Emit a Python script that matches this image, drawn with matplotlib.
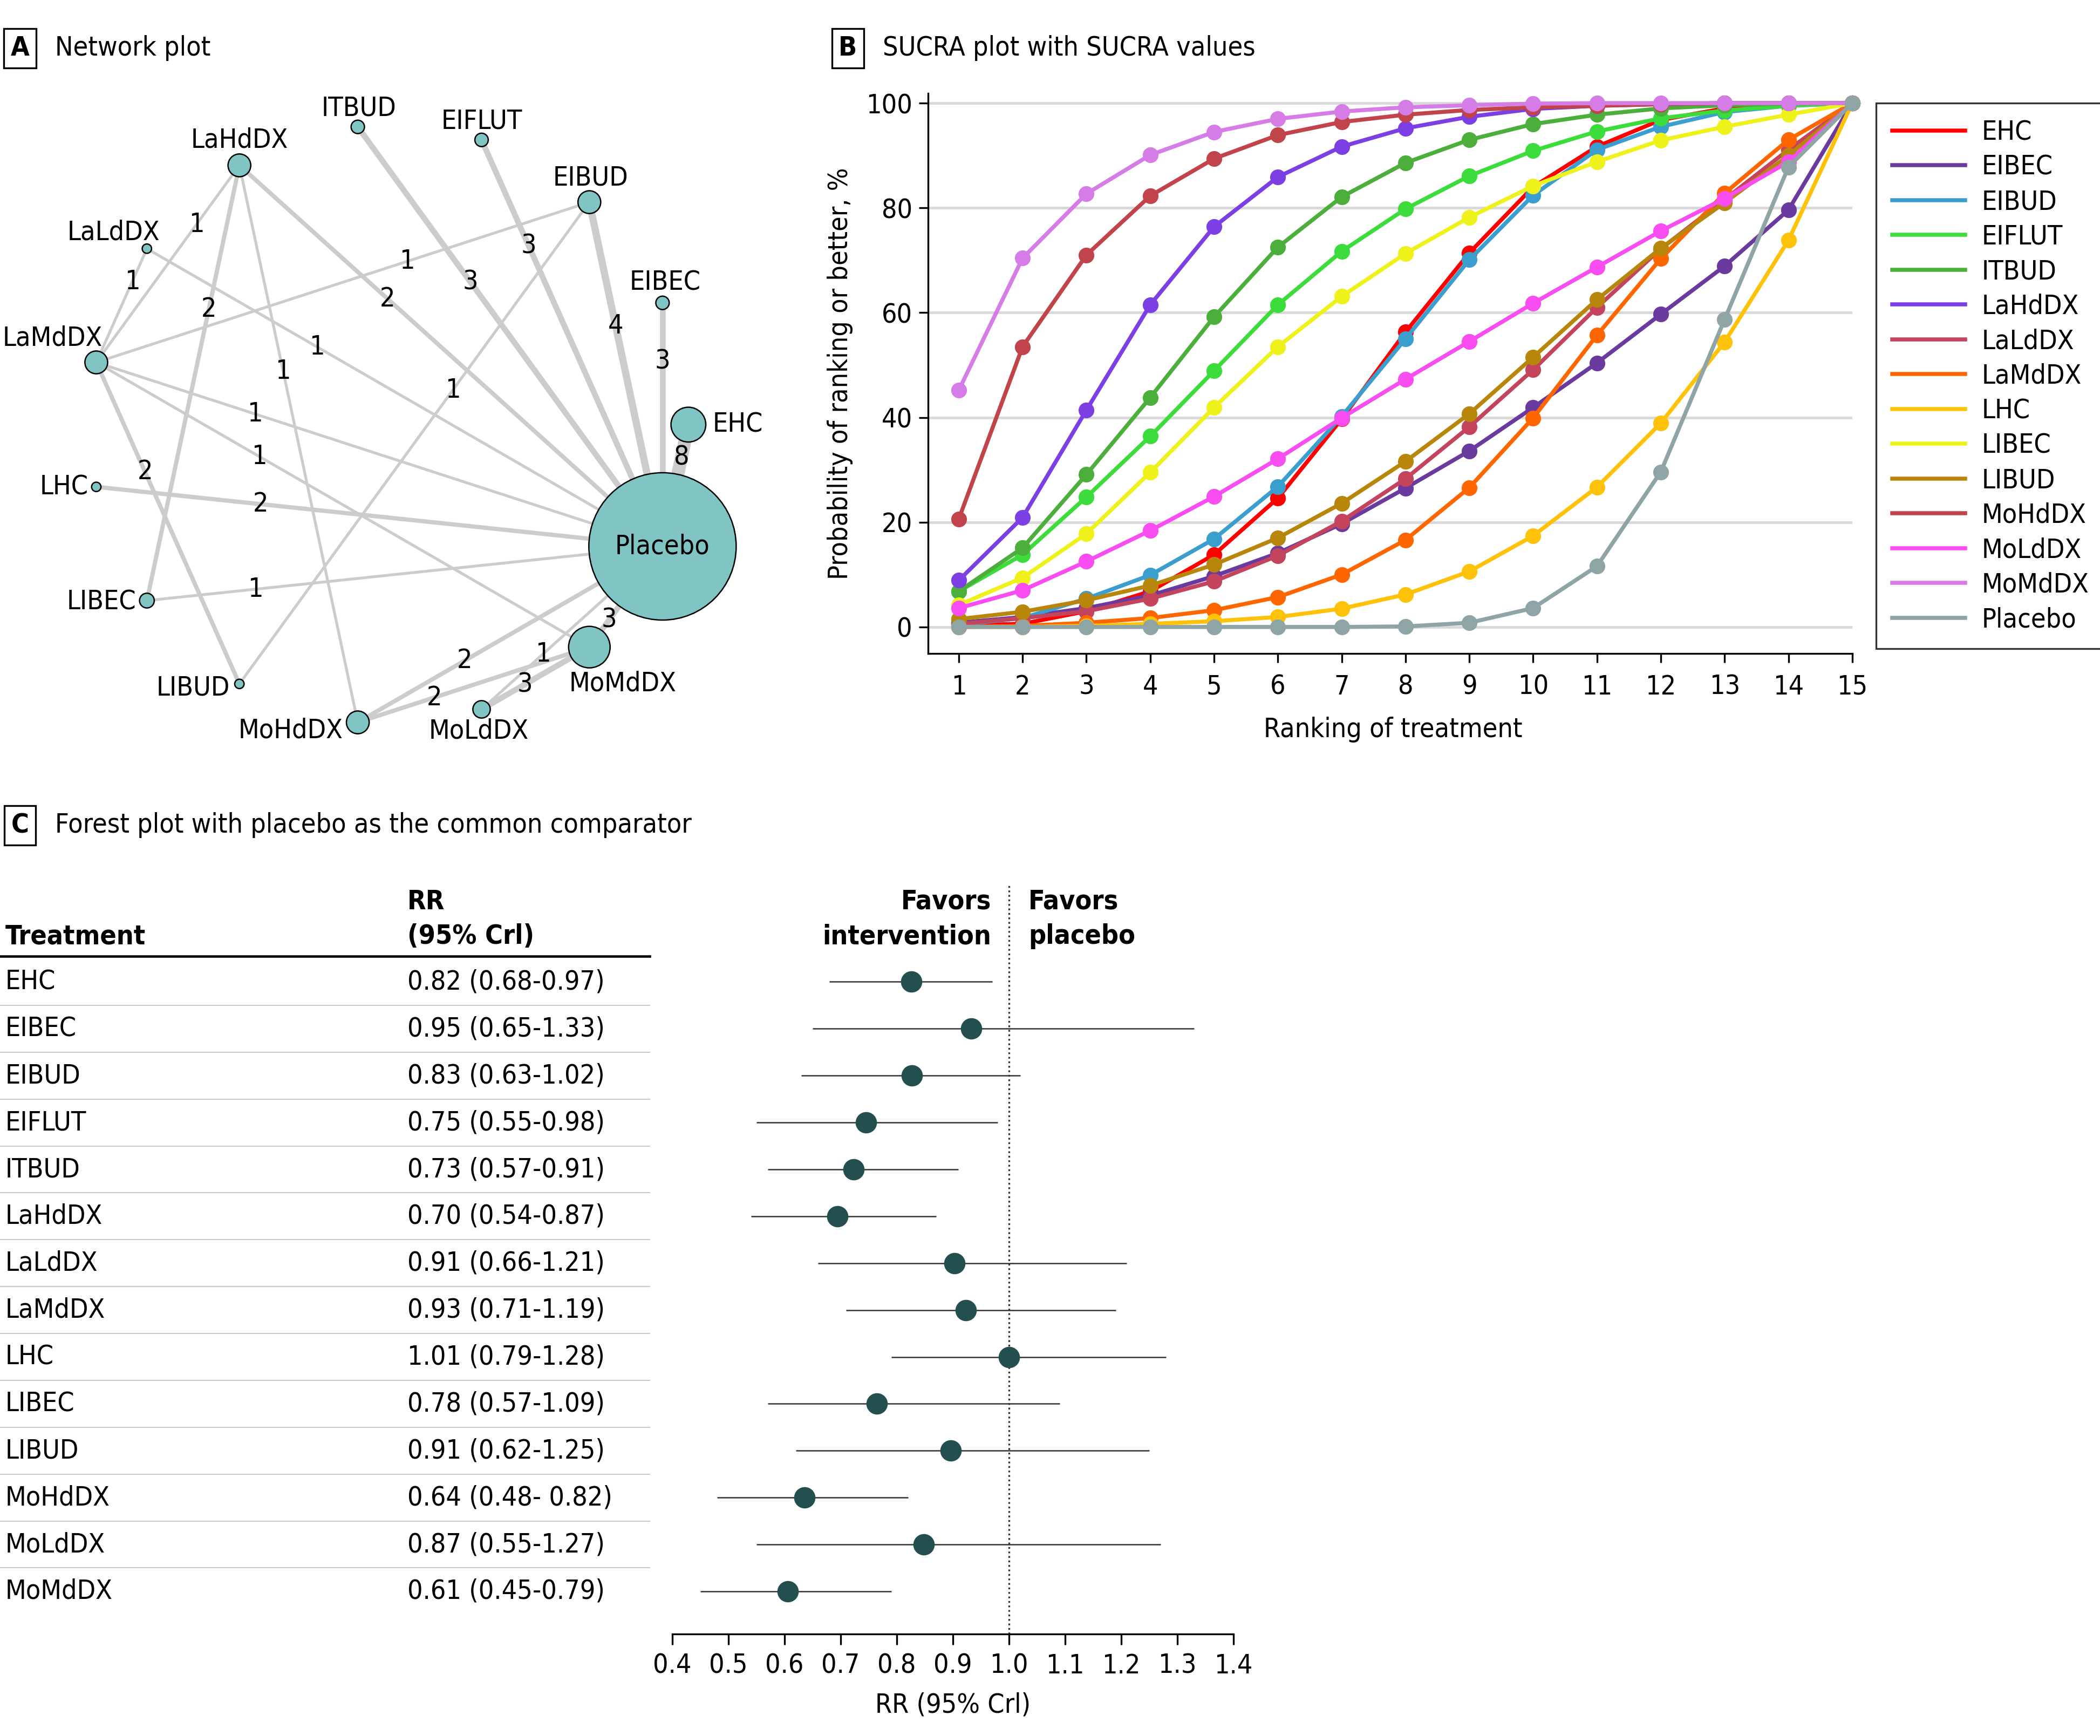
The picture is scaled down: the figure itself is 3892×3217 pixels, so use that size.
import numpy as np
import matplotlib.pyplot as plt
from matplotlib.patches import Circle

plt.rcParams['font.family'] = ['Liberation Sans Narrow', 'DejaVu Sans']
plt.rcParams['font.stretch'] = 'condensed'

# ---------------- data ----------------
treatments = ['EHC', 'EIBEC', 'EIBUD', 'EIFLUT', 'ITBUD', 'LaHdDX', 'LaLdDX', 'LaMdDX',
              'LHC', 'LIBEC', 'LIBUD', 'MoHdDX', 'MoLdDX', 'MoMdDX', 'Placebo']
ranks = list(range(1, 16))

# cumulative ranking probabilities (%)
cum_EHC = [0.3, 0.6, 3.0, 6.8, 13.8, 24.6, 39.7, 56.3, 71.4, 84.0, 91.7, 96.8, 99.0, 99.8, 100]
cum_EIBEC = [0.8, 1.9, 3.6, 6.0, 9.7, 14.1, 19.7, 26.5, 33.6, 41.9, 50.4, 59.7, 68.9, 79.6, 100]
cum_EIBUD = [0.4, 1.7, 5.4, 9.9, 16.8, 26.8, 40.2, 55.0, 70.1, 82.4, 91.1, 95.5, 98.3, 99.5, 100]
cum_EIFLUT = [6.8, 13.8, 24.8, 36.4, 48.9, 61.5, 71.7, 79.8, 86.1, 90.9, 94.6, 97.1, 98.6, 99.5, 100]
cum_ITBUD = [6.8, 15.1, 29.1, 43.8, 59.2, 72.5, 82.1, 88.6, 93.0, 96.0, 97.8, 99.0, 99.6, 99.9, 100]
cum_LaHdDX = [8.9, 20.9, 41.4, 61.5, 76.4, 85.9, 91.7, 95.2, 97.4, 98.9, 99.5, 99.8, 100, 100, 100]
cum_LaLdDX = [0.6, 1.7, 3.0, 5.4, 8.7, 13.6, 20.2, 28.3, 38.2, 49.1, 61.0, 72.2, 81.6, 91.1, 100]
cum_LaMdDX = [0.0, 0.2, 0.8, 1.7, 3.2, 5.7, 10.0, 16.6, 26.6, 39.9, 55.7, 70.3, 82.8, 93.0, 100]
cum_LHC = [0.0, 0.0, 0.2, 0.6, 1.1, 1.9, 3.5, 6.2, 10.6, 17.4, 26.7, 38.9, 54.4, 73.8, 100]
cum_LIBEC = [4.2, 9.4, 17.8, 29.5, 41.9, 53.5, 63.1, 71.3, 78.2, 84.2, 88.8, 92.9, 95.5, 97.8, 100]
cum_LIBUD = [1.5, 2.9, 5.1, 7.9, 11.9, 17.0, 23.6, 31.6, 40.7, 51.5, 62.5, 72.3, 81.0, 90.0, 100]
cum_MoHdDX = [20.6, 53.5, 71.0, 82.3, 89.4, 93.9, 96.4, 97.8, 98.7, 99.2, 99.5, 99.8, 100, 100, 100]
cum_MoLdDX = [3.6, 7.0, 12.5, 18.4, 24.9, 32.1, 39.9, 47.3, 54.5, 61.8, 68.7, 75.6, 81.8, 88.8, 100]
cum_MoMdDX = [45.2, 70.4, 82.7, 90.1, 94.5, 97.0, 98.4, 99.2, 99.6, 99.9, 100, 100, 100, 100, 100]
cum_Placebo = [0.0, 0.0, 0.0, 0.0, 0.0, 0.0, 0.0, 0.1, 0.8, 3.6, 11.6, 29.6, 58.7, 87.8, 100]

sucra_series = [cum_EHC, cum_EIBEC, cum_EIBUD, cum_EIFLUT, cum_ITBUD, cum_LaHdDX, cum_LaLdDX,
                cum_LaMdDX, cum_LHC, cum_LIBEC, cum_LIBUD, cum_MoHdDX, cum_MoLdDX, cum_MoMdDX,
                cum_Placebo]

# network: relative node size and direct comparisons (number of studies)
node_size = [13, 5, 8.5, 5, 5, 8.5, 3.5, 8.5, 3.5, 5.5, 3.5, 8.5, 6.5, 15.5, 55]
edge_from = ['EHC', 'EIBEC', 'EIBUD', 'EIBUD', 'EIBUD', 'EIFLUT', 'ITBUD', 'LaHdDX', 'LaHdDX',
             'LaHdDX', 'LaHdDX', 'LaLdDX', 'LaLdDX', 'LaMdDX', 'LaMdDX', 'LaMdDX', 'LHC',
             'LIBEC', 'MoHdDX', 'MoHdDX', 'MoLdDX', 'MoLdDX', 'MoMdDX']
edge_to = ['Placebo', 'Placebo', 'Placebo', 'LaMdDX', 'LIBUD', 'Placebo', 'Placebo', 'LaMdDX',
           'LIBEC', 'MoHdDX', 'Placebo', 'LaMdDX', 'Placebo', 'LIBUD', 'MoMdDX', 'Placebo',
           'Placebo', 'Placebo', 'MoMdDX', 'Placebo', 'MoMdDX', 'Placebo', 'Placebo']
edge_studies = [8, 3, 4, 1, 1, 3, 3, 1, 2, 1, 2, 1, 1, 2, 1, 1, 2, 1, 2, 2, 3, 1, 3]

# forest plot: RR vs placebo (dot positions, CrI from the table)
rr_point = [0.826, 0.933, 0.827, 0.745, 0.723, 0.694, 0.903, 0.923, 1.000, 0.764, 0.896,
            0.636, 0.848, 0.606]
rr_lo = [0.68, 0.65, 0.63, 0.55, 0.57, 0.54, 0.66, 0.71, 0.79, 0.57, 0.62, 0.48, 0.55, 0.45]
rr_hi = [0.97, 1.33, 1.02, 0.98, 0.91, 0.87, 1.21, 1.19, 1.28, 1.09, 1.25, 0.82, 1.27, 0.79]
rr_text = ['0.82 (0.68-0.97)', '0.95 (0.65-1.33)', '0.83 (0.63-1.02)', '0.75 (0.55-0.98)',
           '0.73 (0.57-0.91)', '0.70 (0.54-0.87)', '0.91 (0.66-1.21)', '0.93 (0.71-1.19)',
           '1.01 (0.79-1.28)', '0.78 (0.57-1.09)', '0.91 (0.62-1.25)', '0.64 (0.48- 0.82)',
           '0.87 (0.55-1.27)', '0.61 (0.45-0.79)']
forest_treatments = treatments[:-1]
rr_ticks = [0.4, 0.5, 0.6, 0.7, 0.8, 0.9, 1.0, 1.1, 1.2, 1.3, 1.4]

colors = ['#FF0000', '#6B3A9E', '#3A9FCF', '#3CDC3C', '#4CAF3C', '#7B3FE4', '#C4445E',
          '#FF6600', '#FFC20A', '#EEF21A', '#B8860B', '#C0444A', '#F84DF0', '#D57CE6',
          '#8FA5A5']

# ---------------- layout helpers (reference pixel grid 1568 x 1296) ----------------
W, H = 1568.0, 1296.0


def fx(px):
    return px / W


def fy(py):
    return 1 - py / H


fig = plt.figure(figsize=(3892 / 300, 3217 / 300), dpi=300)
FS = 12


def panel_label(x, y, letter, title):
    fig.text(fx(x), fy(y), letter, fontsize=FS, fontweight='bold', ha='center', va='center',
             bbox=dict(boxstyle='square,pad=0.25', fc='white', ec='black', lw=0.8))
    fig.text(fx(x + 26), fy(y), title, fontsize=FS, ha='left', va='center')


panel_label(15, 36, 'A', 'Network plot')
panel_label(633, 36, 'B', 'SUCRA plot with SUCRA values')
panel_label(15, 616, 'C', 'Forest plot with placebo as the common comparator')

# ---------------- A: network ----------------
cx, cy, rad = 290.5, 317.0, 223.5
axn = fig.add_axes([fx(0), fy(580), 600 / W, 520 / H])
axn.set_xlim((0 - cx) / rad, (600 - cx) / rad)
axn.set_ylim((cy - 580) / rad, (cy - 60) / rad)
axn.axis('off')

angles = np.deg2rad(np.arange(len(treatments)) * 360.0 / len(treatments))
pos = {t: (np.cos(a), np.sin(a)) for t, a in zip(treatments, angles)}

# where along each edge its count is written (fraction from first node)
label_frac = [0.27, 0.24, 0.36, 0.37, 0.39, 0.26, 0.37, 0.30, 0.33, 0.37, 0.35, 0.29, 0.33,
              0.34, 0.33, 0.28, 0.29, 0.21, 0.33, 0.35, 0.40, 0.34, 0.27]

for a, b, n, t in zip(edge_from, edge_to, edge_studies, label_frac):
    (x0, y0), (x1, y1) = pos[a], pos[b]
    axn.plot([x0, x1], [y0, y1], color='#CCCCCC', lw=0.6 + 0.65 * n,
             solid_capstyle='butt', zorder=1)
    axn.text(x0 + t * (x1 - x0), y0 + t * (y1 - y0), str(n), fontsize=FS,
             ha='center', va='center', zorder=3)

for t, s in zip(treatments, node_size):
    axn.add_patch(Circle(pos[t], s / rad, fc='#80C4C4', ec='black', lw=0.6, zorder=2))

# label offsets in reference pixels (dx, dy), alignment
node_label_style = {
    'EHC': (18, 0, 'left'), 'EIBEC': (2, -15, 'center'), 'EIBUD': (1, -18, 'center'),
    'EIFLUT': (0, -14, 'center'), 'ITBUD': (1, -14, 'center'), 'LaHdDX': (0, -19, 'center'),
    'LaLdDX': (-25, -12, 'center'), 'LaMdDX': (-70, -18, 'left'), 'LHC': (-6, 0, 'right'),
    'LIBEC': (-8, 1, 'right'), 'LIBUD': (-7, 3, 'right'), 'MoHdDX': (-11, 6, 'right'),
    'MoLdDX': (-2, 16, 'center'), 'MoMdDX': (25, 27, 'center'), 'Placebo': (0, 0, 'center'),
}
for t in treatments:
    dx, dy, ha = node_label_style[t]
    x, y = pos[t]
    axn.text(x + dx / rad, y - dy / rad, t, fontsize=FS, ha=ha, va='center', zorder=4)

# ---------------- B: SUCRA ----------------
ylo, yhi = -5.1, 101.9
top_px = 468 - yhi * 3.91
axs = fig.add_axes([fx(693), fy(488), (1383 - 693) / W, (488 - top_px) / H])
for t, vals, c in zip(treatments, sucra_series, colors):
    axs.plot(ranks, vals, color=c, lw=1.8, marker='o', ms=6, label=t, clip_on=False,
             zorder=3)
axs.set_xlim(0.52, 15)
axs.set_ylim(ylo, yhi)
axs.set_xticks(ranks)
axs.set_yticks([0, 20, 40, 60, 80, 100])
for v in [0, 20, 40, 60, 80, 100]:
    axs.axhline(v, color='#D9D9D9', lw=1.2, zorder=1)
axs.spines['top'].set_visible(False)
axs.spines['right'].set_visible(False)
for sp in ['left', 'bottom']:
    axs.spines[sp].set_linewidth(0.8)
axs.tick_params(axis='both', direction='out', length=4, width=0.8, labelsize=FS)
axs.tick_params(axis='x', pad=5)
axs.tick_params(axis='y', pad=3)
axs.set_xlabel('Ranking of treatment', fontsize=FS)
axs.set_ylabel('Probability of ranking or better, %', fontsize=FS)
axs.xaxis.set_label_coords(0.503, -0.112)
axs.yaxis.set_label_coords(-0.081, 0.5)
leg = axs.legend(loc='upper left', bbox_to_anchor=(fx(1401), fy(77)),
                 bbox_transform=fig.transFigure, borderaxespad=0, fontsize=FS,
                 frameon=True, fancybox=False, edgecolor='black', handlelength=2.7,
                 handletextpad=0.6, labelspacing=0.33, borderpad=0.6)
leg.get_frame().set_linewidth(0.8)
for ln in leg.get_lines():
    ln.set_marker('')
    ln.set_linewidth(1.8)

# ---------------- C: table + forest ----------------
n_rows = len(forest_treatments)
row0, step = 733.0, 35.0
y_top_px, y_bot_px = 660.0, 1220.0
ylim_forest = ((y_bot_px - row0) / step, (y_top_px - row0) / step)

axt = fig.add_axes([fx(0), fy(y_bot_px), 485 / W, (y_bot_px - y_top_px) / H])
axt.set_xlim(0, 485)
axt.set_ylim(*ylim_forest)
axt.axis('off')
rows = np.arange(n_rows)
for i, (t, s) in enumerate(zip(forest_treatments, rr_text)):
    axt.text(4, i, t, fontsize=FS, ha='left', va='center')
    axt.text(304, i, s, fontsize=FS, ha='left', va='center')
for i in range(n_rows - 1):
    axt.plot([0, 485], [i + 0.5, i + 0.5], color='#C9CCBA', lw=0.5, clip_on=False)
axt.plot([0, 485], [(714 - row0) / step] * 2, color='black', lw=1.1, clip_on=False)
axt.text(4, (699 - row0) / step, 'Treatment', fontsize=FS, fontweight='bold',
         ha='left', va='center')
axt.text(304, (673 - row0) / step, 'RR', fontsize=FS, fontweight='bold', ha='left', va='center')
axt.text(304, (699 - row0) / step, '(95% Crl)', fontsize=FS, fontweight='bold',
         ha='left', va='center')

axf = fig.add_axes([fx(502), fy(y_bot_px), (921 - 502) / W, (y_bot_px - y_top_px) / H])
axf.hlines(rows, rr_lo, rr_hi, color='#333333', lw=0.6, zorder=2)
axf.plot(rr_point, rows, 'o', color='#23504F', ms=8.5, zorder=3, linestyle='none')
axf.axvline(1.0, color='#333333', lw=0.8, linestyle=(0, (1, 1.5)), zorder=1)
axf.set_xlim(0.4, 1.4)
axf.set_ylim(*ylim_forest)
axf.set_xticks(rr_ticks)
axf.set_xticklabels([f'{v:.1f}' for v in rr_ticks])
axf.set_yticks([])
for sp in ['top', 'right', 'left']:
    axf.spines[sp].set_visible(False)
axf.spines['bottom'].set_linewidth(0.8)
axf.tick_params(axis='x', direction='out', length=4.8, width=0.8, labelsize=FS, pad=3.5)
axf.set_xlabel('RR (95% Crl)', fontsize=FS)
axf.xaxis.set_label_coords(0.5, -0.077)

fig.text(fx(740), fy(673), 'Favors', fontsize=FS, fontweight='bold', ha='right', va='center')
fig.text(fx(740), fy(699), 'intervention', fontsize=FS, fontweight='bold', ha='right',
         va='center')
fig.text(fx(768), fy(673), 'Favors', fontsize=FS, fontweight='bold', ha='left', va='center')
fig.text(fx(768), fy(699), 'placebo', fontsize=FS, fontweight='bold', ha='left', va='center')

fig.savefig('out.png', dpi=300, facecolor='white')
